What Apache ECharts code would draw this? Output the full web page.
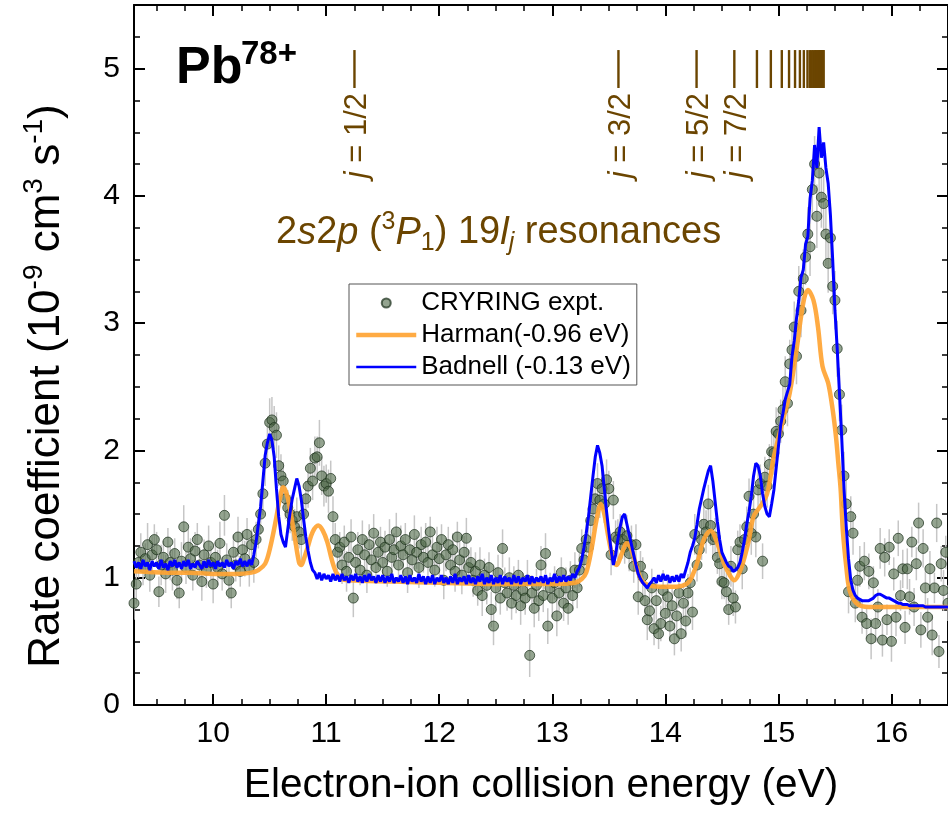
<!DOCTYPE html>
<html><head><meta charset="utf-8">
<script src="https://cdn.jsdelivr.net/npm/echarts@6/dist/echarts.min.js"></script>
<style>html,body{margin:0;padding:0;background:#fff}#chart{width:948px;height:815px}</style>
</head><body><div id="chart"></div>
<script>
// ---------------- DATA ----------------
const energyGrid = [
9.30,9.32,9.34,9.36,9.38,9.40,9.42,9.44,9.46,9.48,
9.50,9.52,9.54,9.56,9.58,9.60,9.62,9.64,9.66,9.68,
9.70,9.72,9.74,9.76,9.78,9.80,9.82,9.84,9.86,9.88,
9.90,9.92,9.94,9.96,9.98,10.00,10.02,10.04,10.06,10.08,
10.10,10.12,10.14,10.16,10.18,10.20,10.22,10.24,10.26,10.28,
10.30,10.32,10.34,10.36,10.38,10.40,10.42,10.44,10.46,10.48,
10.50,10.52,10.54,10.56,10.58,10.60,10.62,10.64,10.66,10.68,
10.70,10.72,10.74,10.76,10.78,10.80,10.82,10.84,10.86,10.88,
10.90,10.92,10.94,10.96,10.98,11.00,11.02,11.04,11.06,11.08,
11.10,11.12,11.14,11.16,11.18,11.20,11.22,11.24,11.26,11.28,
11.30,11.32,11.34,11.36,11.38,11.40,11.42,11.44,11.46,11.48,
11.50,11.52,11.54,11.56,11.58,11.60,11.62,11.64,11.66,11.68,
11.70,11.72,11.74,11.76,11.78,11.80,11.82,11.84,11.86,11.88,
11.90,11.92,11.94,11.96,11.98,12.00,12.02,12.04,12.06,12.08,
12.10,12.12,12.14,12.16,12.18,12.20,12.22,12.24,12.26,12.28,
12.30,12.32,12.34,12.36,12.38,12.40,12.42,12.44,12.46,12.48,
12.50,12.52,12.54,12.56,12.58,12.60,12.62,12.64,12.66,12.68,
12.70,12.72,12.74,12.76,12.78,12.80,12.82,12.84,12.86,12.88,
12.90,12.92,12.94,12.96,12.98,13.00,13.02,13.04,13.06,13.08,
13.10,13.12,13.14,13.16,13.18,13.20,13.22,13.24,13.26,13.28,
13.30,13.32,13.34,13.36,13.38,13.40,13.42,13.44,13.46,13.48,
13.50,13.52,13.54,13.56,13.58,13.60,13.62,13.64,13.66,13.68,
13.70,13.72,13.74,13.76,13.78,13.80,13.82,13.84,13.86,13.88,
13.90,13.92,13.94,13.96,13.98,14.00,14.02,14.04,14.06,14.08,
14.10,14.12,14.14,14.16,14.18,14.20,14.22,14.24,14.26,14.28,
14.30,14.32,14.34,14.36,14.38,14.40,14.42,14.44,14.46,14.48,
14.50,14.52,14.54,14.56,14.58,14.60,14.62,14.64,14.66,14.68,
14.70,14.72,14.74,14.76,14.78,14.80,14.82,14.84,14.86,14.88,
14.90,14.92,14.94,14.96,14.98,15.00,15.02,15.04,15.06,15.08,
15.10,15.12,15.14,15.16,15.18,15.20,15.22,15.24,15.26,15.28,
15.30,15.32,15.34,15.36,15.38,15.40,15.42,15.44,15.46,15.48,
15.50,15.52,15.54,15.56,15.58,15.60,15.62,15.64,15.66,15.68,
15.70,15.72,15.74,15.76,15.78,15.80,15.82,15.84,15.86,15.88,
15.90,15.92,15.94,15.96,15.98,16.00,16.02,16.04,16.06,16.08,
16.10,16.12,16.14,16.16,16.18,16.20,16.22,16.24,16.26,16.28,
16.30,16.32,16.34,16.36,16.38,16.40,16.42,16.44,16.46,16.48,
16.50];

// CRYRING experiment (10^-9 cm^3 s^-1)
const expRate = [
0.80,0.95,1.12,1.20,1.08,1.15,1.26,1.02,1.18,1.30,
1.22,0.89,1.10,1.16,1.03,1.28,1.12,1.06,1.19,0.98,
0.88,1.13,1.40,1.08,1.24,1.15,1.02,1.21,1.30,1.10,
0.97,1.18,1.06,1.25,1.12,0.95,1.16,1.08,1.27,1.03,
1.49,1.14,0.98,0.88,1.20,1.10,1.32,1.05,1.22,1.15,
1.34,1.08,1.26,1.12,1.30,1.38,1.50,1.66,1.90,2.05,
2.22,2.24,2.18,2.12,1.88,1.80,1.76,1.62,1.55,1.50,
1.45,1.40,1.48,1.36,1.30,1.50,1.62,1.72,1.86,1.76,
1.94,1.95,2.06,1.80,1.72,1.74,1.68,1.78,1.48,1.30,
1.20,1.24,1.10,1.28,1.05,1.16,1.32,0.84,1.12,1.22,
1.06,1.30,1.18,1.02,1.26,1.14,1.35,1.08,1.20,1.28,
1.12,1.24,1.05,1.30,1.16,1.22,1.36,1.10,1.25,1.18,
1.30,1.04,1.22,1.14,1.34,1.20,1.08,1.26,1.16,1.28,
1.12,1.36,1.18,1.06,1.24,1.15,1.30,0.98,1.18,1.26,
1.10,1.22,1.05,1.32,1.14,1.02,1.20,1.31,1.08,1.12,
0.98,1.05,0.90,1.10,0.86,1.02,0.94,1.08,0.75,0.62,
0.92,1.04,0.84,1.23,0.96,0.88,1.00,0.80,0.94,0.86,
1.02,0.78,0.90,0.84,0.98,0.39,0.88,0.76,0.94,0.82,
1.10,0.86,1.19,0.62,0.92,0.84,0.96,0.70,0.88,1.04,
0.80,0.92,0.76,0.98,0.86,1.06,0.92,1.06,1.23,1.14,
1.30,1.24,1.45,1.54,1.62,1.74,1.61,1.70,1.58,1.77,
1.70,1.18,1.61,1.32,1.30,1.36,1.30,1.24,1.33,1.19,
1.26,1.09,1.26,0.85,1.09,1.01,0.82,0.67,0.74,0.92,
0.60,0.82,0.56,0.64,0.90,0.72,0.85,0.62,0.78,0.52,
0.70,0.88,0.56,0.80,0.66,0.88,0.96,0.73,1.34,1.10,
1.22,1.30,1.42,1.36,1.58,1.41,1.30,1.32,1.16,1.11,
0.97,0.96,0.89,0.75,1.09,0.84,0.77,1.22,1.28,1.07,
1.30,1.40,1.64,1.35,1.50,1.32,1.69,1.74,1.13,1.79,
1.72,1.89,1.99,1.98,2.15,2.13,2.23,2.32,2.54,2.37,
2.68,2.79,2.97,2.74,3.25,3.10,3.35,3.52,3.70,3.60,
4.05,4.25,3.84,4.18,3.99,3.94,3.70,3.47,3.67,3.29,
3.18,2.80,2.44,2.16,1.80,1.58,0.89,1.48,1.35,0.80,
0.98,1.09,0.69,1.13,0.64,1.05,0.52,0.96,0.64,0.77,
1.23,0.51,1.16,0.67,1.24,0.50,1.03,0.69,1.31,0.86,
1.07,0.61,1.07,0.85,1.28,0.77,1.11,1.43,0.59,1.23,
0.92,0.69,1.07,0.55,0.92,1.43,0.42,1.11,0.90,1.20,
0.80];

const expErr = [
0.13,0.16,0.12,0.15,0.14,0.12,0.17,0.13,0.15,0.12,
0.14,0.12,0.16,0.13,0.15,0.11,0.14,0.16,0.12,0.15,
0.12,0.15,0.17,0.13,0.14,0.16,0.12,0.15,0.13,0.14,
0.15,0.12,0.14,0.16,0.13,0.15,0.12,0.14,0.17,0.13,
0.16,0.13,0.15,0.12,0.14,0.13,0.16,0.12,0.15,0.14,
0.13,0.15,0.12,0.16,0.14,0.15,0.16,0.17,0.18,0.17,
0.19,0.18,0.17,0.18,0.16,0.17,0.15,0.16,0.14,0.15,
0.16,0.14,0.15,0.13,0.16,0.15,0.14,0.17,0.16,0.15,
0.17,0.16,0.18,0.15,0.16,0.15,0.17,0.14,0.16,0.13,
0.14,0.12,0.15,0.13,0.16,0.12,0.14,0.15,0.13,0.14,
0.12,0.15,0.13,0.14,0.16,0.12,0.15,0.13,0.14,0.12,
0.15,0.13,0.12,0.16,0.14,0.13,0.15,0.12,0.16,0.14,
0.13,0.16,0.14,0.12,0.15,0.13,0.16,0.14,0.12,0.15,
0.14,0.12,0.15,0.13,0.16,0.14,0.12,0.15,0.13,0.14,
0.15,0.13,0.16,0.12,0.14,0.15,0.13,0.16,0.14,0.12,
0.13,0.15,0.12,0.14,0.16,0.13,0.15,0.12,0.14,0.15,
0.16,0.14,0.13,0.15,0.12,0.14,0.16,0.13,0.15,0.14,
0.12,0.15,0.14,0.13,0.16,0.17,0.14,0.15,0.13,0.16,
0.15,0.13,0.16,0.14,0.12,0.15,0.13,0.16,0.14,0.12,
0.14,0.16,0.13,0.15,0.12,0.14,0.16,0.13,0.15,0.14,
0.15,0.16,0.14,0.17,0.15,0.16,0.14,0.17,0.15,0.16,
0.14,0.16,0.15,0.13,0.16,0.14,0.15,0.13,0.16,0.14,
0.15,0.13,0.16,0.14,0.12,0.15,0.13,0.16,0.14,0.15,
0.13,0.15,0.12,0.14,0.16,0.13,0.15,0.12,0.14,0.13,
0.15,0.12,0.14,0.16,0.13,0.15,0.12,0.14,0.16,0.13,
0.15,0.16,0.14,0.17,0.15,0.16,0.14,0.15,0.13,0.16,
0.14,0.13,0.15,0.12,0.16,0.14,0.13,0.15,0.14,0.16,
0.15,0.16,0.14,0.17,0.15,0.16,0.17,0.15,0.14,0.16,
0.17,0.16,0.18,0.17,0.19,0.18,0.17,0.19,0.20,0.18,
0.19,0.21,0.20,0.22,0.20,0.21,0.23,0.22,0.21,0.23,
0.24,0.22,0.25,0.23,0.24,0.22,0.25,0.23,0.24,0.22,
0.23,0.22,0.21,0.20,0.19,0.18,0.17,0.16,0.17,0.15,
0.14,0.16,0.13,0.15,0.12,0.14,0.16,0.13,0.15,0.14,
0.16,0.13,0.15,0.12,0.14,0.16,0.13,0.15,0.14,0.12,
0.15,0.13,0.16,0.14,0.12,0.15,0.13,0.16,0.14,0.15,
0.13,0.15,0.14,0.16,0.12,0.15,0.13,0.14,0.16,0.13,
0.14];

// Badnell theory (-0.13 eV shift), on the same energy grid
const badnellRate = [
1.13,1.08,1.12,1.07,1.14,1.09,1.12,1.06,1.13,1.09,
1.12,1.07,1.14,1.08,1.11,1.06,1.13,1.09,1.14,1.08,
1.12,1.07,1.13,1.09,1.14,1.07,1.11,1.08,1.13,1.10,
1.07,1.13,1.08,1.14,1.09,1.12,1.07,1.13,1.09,1.12,
1.08,1.14,1.09,1.12,1.07,1.13,1.10,1.15,1.09,1.13,
1.09,1.14,1.10,1.18,1.28,1.42,1.56,1.76,1.96,2.06,
2.13,2.08,1.95,1.70,1.48,1.34,1.28,1.24,1.38,1.51,
1.62,1.70,1.78,1.72,1.61,1.46,1.32,1.21,1.12,1.06,
1.04,0.99,1.04,0.98,1.03,0.99,1.02,0.97,1.03,0.98,
1.02,0.97,1.03,0.98,1.01,0.96,1.02,0.98,1.03,0.97,
1.01,0.96,1.02,0.97,1.03,0.98,1.01,0.96,1.02,0.97,
1.02,0.96,1.01,0.97,1.03,0.96,1.00,0.97,1.02,0.96,
1.01,0.95,1.02,0.97,1.00,0.96,1.03,0.97,1.01,0.95,
1.01,0.96,1.02,0.95,1.00,0.97,1.02,0.96,1.00,0.95,
1.01,0.96,1.03,0.95,1.00,0.97,1.01,0.95,1.02,0.96,
1.00,0.95,1.01,0.97,1.03,0.95,1.00,0.96,1.02,0.95,
1.00,0.96,1.02,0.95,1.01,0.97,1.00,0.95,1.02,0.96,
1.01,0.95,1.00,0.97,1.02,0.95,1.01,0.96,1.00,0.97,
1.01,0.96,1.02,0.95,1.00,0.97,1.03,0.96,1.01,0.97,
1.02,0.97,1.01,0.98,1.03,1.00,1.05,1.08,1.14,1.24,
1.35,1.48,1.64,1.80,1.95,2.04,1.98,1.88,1.70,1.52,
1.36,1.22,1.10,1.18,1.30,1.40,1.48,1.50,1.42,1.34,
1.26,1.18,1.10,1.03,0.99,0.96,0.94,0.92,0.95,0.97,
1.00,0.96,1.02,0.97,1.03,0.98,1.02,0.96,1.01,0.97,
1.02,0.97,1.03,1.00,1.06,1.12,1.20,1.25,1.31,1.42,
1.54,1.62,1.70,1.77,1.84,1.88,1.76,1.60,1.44,1.30,
1.20,1.16,1.12,1.09,1.08,1.05,1.06,1.08,1.12,1.20,
1.30,1.42,1.52,1.64,1.80,1.90,1.88,1.80,1.66,1.56,
1.50,1.48,1.58,1.69,1.86,2.03,2.20,2.29,2.40,2.46,
2.52,2.74,2.86,3.04,3.18,3.36,3.42,3.62,3.68,3.98,
4.12,4.40,4.22,4.54,4.30,4.42,4.22,4.10,3.85,3.50,
3.10,2.80,2.45,2.10,1.70,1.40,1.15,0.98,0.90,0.86,
0.84,0.83,0.82,0.82,0.82,0.82,0.83,0.84,0.86,0.87,
0.87,0.86,0.85,0.84,0.84,0.83,0.82,0.81,0.80,0.80,
0.79,0.79,0.79,0.78,0.78,0.78,0.78,0.78,0.78,0.78,
0.77,0.77,0.77,0.77,0.77,0.77,0.77,0.77,0.77,0.77,
0.77];

// Harman theory (-0.96 eV shift)
const harmanEnergy = [9.30,9.60,9.80,10.00,10.20,10.34,10.40,10.46,10.50,10.55,10.59,10.62,10.65,10.68,10.72,10.76,10.78,10.80,10.84,10.88,10.93,10.97,11.01,11.05,11.09,11.14,11.20,11.60,12.00,12.50,13.00,13.20,13.26,13.30,13.35,13.39,13.43,13.46,13.50,13.54,13.57,13.61,13.66,13.70,13.74,13.79,13.85,13.95,14.10,14.20,14.25,14.29,14.34,14.40,14.46,14.52,14.57,14.61,14.66,14.70,14.74,14.78,14.84,14.90,14.96,15.04,15.10,15.16,15.22,15.26,15.31,15.35,15.39,15.44,15.48,15.51,15.53,15.55,15.57,15.60,15.63,15.69,15.80,16.50];
const harmanRate = [1.05,1.04,1.04,1.03,1.03,1.04,1.06,1.11,1.22,1.43,1.62,1.71,1.66,1.54,1.33,1.12,1.10,1.14,1.25,1.36,1.41,1.37,1.28,1.14,1.04,0.99,0.98,0.97,0.96,0.95,0.95,0.96,0.99,1.04,1.24,1.45,1.58,1.50,1.30,1.14,1.10,1.18,1.27,1.22,1.10,0.98,0.94,0.93,0.93,0.96,1.04,1.14,1.30,1.37,1.27,1.11,1.02,0.98,1.05,1.16,1.30,1.48,1.56,1.66,1.95,2.24,2.45,2.79,3.16,3.26,3.18,2.97,2.66,2.53,2.32,2.10,1.90,1.70,1.37,1.09,0.90,0.80,0.77,0.77];

// 2s2p(3P1) 19l_j resonance positions (eV)
const resonanceEnergy = [11.25,13.585,14.276,14.61,14.81,14.933,15.03,15.094,15.147,15.19,15.225,15.257,15.278,15.295,15.31,15.323,15.335,15.346,15.356,15.365,15.373,15.381,15.388,15.395,15.40];
const resonanceLabelEnergy = [11.25,13.585,14.276,14.61];
const resonanceLabelJ = ['1/2','3/2','5/2','7/2'];

// axis ticks
const xMajorTicks = [10,11,12,13,14,15,16];
const xMinorTicks = [9.5,9.75,10.25,10.5,10.75,11.25,11.5,11.75,12.25,12.5,12.75,13.25,13.5,13.75,14.25,14.5,14.75,15.25,15.5,15.75,16.25];
const yMajorTicks = [0,1,2,3,4,5];
const yMinorTicks = [0.25,0.5,0.75,1.25,1.5,1.75,2.25,2.5,2.75,3.25,3.5,3.75,4.25,4.5,4.75,5.25];

const seriesNames = ['CRYRING expt.','Harman(-0.96 eV)','Badnell (-0.13 eV)'];

// ---------------- CHART ----------------
const FONT = '"Liberation Sans", Arial, Helvetica, sans-serif';
const BROWN = '#6b4500';
const ORANGE = '#ffa433';
const BLUE = '#0000ff';
const X_MIN = 9.3, X_MAX = 16.5, Y_MIN = 0, Y_MAX = 5.5;
const RES_BOTTOM = 4.848, RES_TOP = 5.146;

const expData = energyGrid.map((e, i) => [e, expRate[i]]);
const errData = energyGrid.map((e, i) => [e, expRate[i] - expErr[i], expRate[i] + expErr[i]]);
const badnellData = energyGrid.map((e, i) => [e, badnellRate[i]]);
const harmanData = harmanEnergy.map((e, i) => [e, harmanRate[i]]);
const resLineData = resonanceEnergy.map(e => [e]);
const resLabelData = resonanceLabelEnergy.map((e, i) => [e, i]);

function tickAxis(kind, position, ticks, len, width, showLine, extra) {
  const base = {
    type: 'value', position: position,
    min: kind === 'x' ? X_MIN : Y_MIN, max: kind === 'x' ? X_MAX : Y_MAX,
    axisLine: { show: showLine, onZero: false, lineStyle: { color: '#000', width: 2 } },
    axisTick: { show: true, inside: true, length: len, customValues: ticks, lineStyle: { color: '#000', width: width } },
    axisLabel: { show: false },
    splitLine: { show: false }, minorTick: { show: false }
  };
  return Object.assign(base, extra || {});
}

const chart = echarts.init(document.getElementById('chart'), null, { renderer: 'canvas' });
chart.setOption({
  animation: false,
  backgroundColor: '#fff',
  grid: { left: 134, top: 5, width: 822, height: 700, containLabel: false },
  xAxis: [
    tickAxis('x', 'bottom', xMajorTicks, 11, 2, true, {
      axisLabel: { show: true, customValues: xMajorTicks, fontSize: 30, margin: 14, color: '#000', fontFamily: FONT },
      name: 'Electron-ion collision energy (eV)', nameLocation: 'middle', nameGap: 60,
      nameTextStyle: { fontSize: 40.5, color: '#000', fontFamily: FONT }
    }),
    tickAxis('x', 'bottom', xMinorTicks, 6, 1.5, false),
    tickAxis('x', 'top', xMajorTicks, 11, 2, true),
    tickAxis('x', 'top', xMinorTicks, 6, 1.5, false)
  ],
  yAxis: [
    tickAxis('y', 'left', yMajorTicks, 11, 2, true, {
      axisLabel: { show: true, customValues: yMajorTicks, fontSize: 30, margin: 14, color: '#000', fontFamily: FONT },
      name: '{n|Rate coefficient (10}{s|-9}{n| cm}{s|3}{n| s}{s|-1}{n|)}',
      nameLocation: 'middle', nameRotate: 90, nameGap: 60,
      nameTextStyle: {
        padding: [0, 62, 0, 0],
        rich: {
          n: { fontSize: 44, lineHeight: 54, color: '#000', fontFamily: FONT },
          s: { fontSize: 28, verticalAlign: 'top', color: '#000', fontFamily: FONT }
        }
      }
    }),
    tickAxis('y', 'left', yMinorTicks, 6, 1.5, false),
    tickAxis('y', 'right', yMajorTicks, 11, 2, true),
    tickAxis('y', 'right', yMinorTicks, 6, 1.5, false)
  ],
  legend: {
    data: [
      { name: seriesNames[0], icon: 'circle' },
      { name: seriesNames[1], lineStyle: { width: 4.5, color: ORANGE }, itemStyle: { opacity: 0 } },
      { name: seriesNames[2], lineStyle: { width: 2.6, color: BLUE }, itemStyle: { opacity: 0 } }
    ],
    orient: 'vertical', left: 349, top: 284,
    itemWidth: 60, itemHeight: 9, itemGap: 6,
    padding: [6, 6, 5, 5],
    borderColor: '#555', borderWidth: 1, backgroundColor: '#fff',
    selectedMode: false,
    textStyle: { fontSize: 26, lineHeight: 26, color: '#000', fontFamily: FONT }
  },
  graphic: [
    { type: 'text', x: 176, y: 69, z: 10, style: { text: 'Pb', fill: '#000', font: 'bold 52px ' + FONT, verticalAlign: 'middle' } },
    { type: 'text', x: 241, y: 55, z: 10, style: { text: '78+', fill: '#000', font: 'bold 33px ' + FONT, verticalAlign: 'middle' } },
    { type: 'text', x: 276, y: 233, z: 10, style: {
        text: '{t|2}{i|s}{t|2}{i|p}{t| (}{u|3}{i|P}{d|1}{t|) 19}{i|l}{dj|j}{t| resonances}',
        verticalAlign: 'middle',
        rich: {
          t: { fontSize: 38, lineHeight: 46, fontFamily: FONT, fill: BROWN },
          i: { fontSize: 38, lineHeight: 46, fontStyle: 'italic', fontFamily: FONT, fill: BROWN },
          u: { fontSize: 25, verticalAlign: 'top', fontFamily: FONT, fill: BROWN },
          d: { fontSize: 25, verticalAlign: 'bottom', fontFamily: FONT, fill: BROWN },
          dj: { fontSize: 25, verticalAlign: 'bottom', fontStyle: 'italic', fontFamily: FONT, fill: BROWN }
        }
      } }
  ],
  series: [
    {
      type: 'custom', name: 'error bars', silent: true, z: 1, clip: true,
      xAxisIndex: 0, yAxisIndex: 0,
      data: errData, encode: { x: 0, y: [1, 2] },
      renderItem: function (params, api) {
        const p1 = api.coord([api.value(0), api.value(1)]);
        const p2 = api.coord([api.value(0), api.value(2)]);
        return { type: 'line', shape: { x1: p1[0], y1: p1[1], x2: p2[0], y2: p2[1] },
                 style: { stroke: '#c6c6c6', lineWidth: 1.5 } };
      }
    },
    {
      type: 'scatter', name: seriesNames[0], z: 2, data: expData,
      symbol: 'circle', symbolSize: 10,
      itemStyle: { color: 'rgba(74,102,68,0.74)', borderColor: 'rgba(26,46,26,0.88)', borderWidth: 1 }
    },
    {
      type: 'line', name: seriesNames[1], z: 3, data: harmanData,
      symbol: 'none', showSymbol: false, smooth: 0.35,
      lineStyle: { color: ORANGE, width: 4.5, opacity: 0.92 }, itemStyle: { color: ORANGE }
    },
    {
      type: 'line', name: seriesNames[2], z: 4, data: badnellData,
      symbol: 'none', showSymbol: false,
      lineStyle: { color: BLUE, width: 3 }, itemStyle: { color: BLUE }
    },
    {
      type: 'custom', name: 'resonances', silent: true, z: 5, clip: false,
      data: resLineData, encode: { x: 0 },
      renderItem: function (params, api) {
        const e = api.value(0);
        const b = api.coord([e, RES_BOTTOM]);
        const t = api.coord([e, RES_TOP]);
        return { type: 'line', shape: { x1: b[0], y1: b[1], x2: t[0], y2: t[1] },
                 style: { stroke: BROWN, lineWidth: 2.4 } };
      }
    },
    {
      type: 'custom', name: 'resonance labels', silent: true, z: 5, clip: false,
      data: resLabelData, encode: { x: 0 },
      renderItem: function (params, api) {
        const e = api.value(0);
        const idx = api.value(1);
        const b = api.coord([e, RES_BOTTOM]);
        return {
          type: 'text', x: b[0] + 3, y: b[1] + 5, rotation: Math.PI / 2,
          style: {
            text: '{i|j}{t| = ' + resonanceLabelJ[idx] + '}',
            align: 'right', verticalAlign: 'middle',
            rich: {
              i: { fontSize: 31, fontStyle: 'italic', fontFamily: FONT, fill: BROWN },
              t: { fontSize: 31, fontFamily: FONT, fill: BROWN }
            }
          }
        };
      }
    }
  ]
});
</script>
</body></html>
